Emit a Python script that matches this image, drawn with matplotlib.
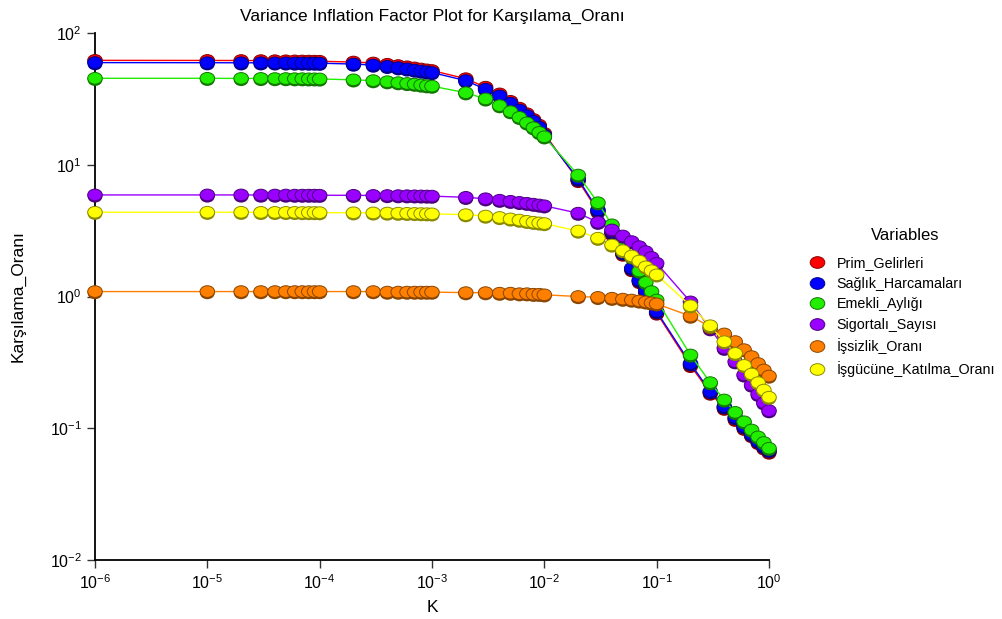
import matplotlib
matplotlib.use("Agg")
import matplotlib.pyplot as plt
import matplotlib.patheffects as pe
from matplotlib.path import Path
from matplotlib.transforms import Affine2D
from matplotlib.lines import Line2D
from matplotlib.ticker import LogLocator, NullLocator

plt.rcParams["font.family"] = ["Liberation Sans", "DejaVu Sans"]
plt.rcParams["mathtext.fontset"] = "custom"
plt.rcParams["mathtext.rm"] = "Liberation Sans"

# ridge parameter K
k_values = [1e-6,
            1e-5, 2e-5, 3e-5, 4e-5, 5e-5, 6e-5, 7e-5, 8e-5, 9e-5,
            1e-4, 2e-4, 3e-4, 4e-4, 5e-4, 6e-4, 7e-4, 8e-4, 9e-4,
            1e-3, 2e-3, 3e-3, 4e-3, 5e-3, 6e-3, 7e-3, 8e-3, 9e-3,
            1e-2, 2e-2, 3e-2, 4e-2, 5e-2, 6e-2, 7e-2, 8e-2, 9e-2,
            0.1, 0.2, 0.3, 0.4, 0.5, 0.6, 0.7, 0.8, 0.9,
            1.0]

prim_gelirleri = [62.0,
                  61.9, 61.8, 61.7, 61.6, 61.5, 61.4, 61.3, 61.2, 61.1,
                  61.0, 60.2, 59.2, 57.9, 56.6, 55.4, 54.3, 53.3, 52.5,
                  51.9, 45.0, 38.8, 34.5, 30.3, 26.9, 24.4, 22.1, 20.0,
                  17.3, 7.6, 4.42, 3.0, 2.1, 1.6, 1.3, 1.08, 0.9,
                  0.75, 0.30, 0.185, 0.142, 0.117, 0.100, 0.088, 0.078, 0.071,
                  0.066]

saglik_harcamalari = [59.6,
                      59.5, 59.4, 59.4, 59.3, 59.3, 59.2, 59.2, 59.1, 59.1,
                      59.0, 58.1, 57.1, 55.8, 54.5, 53.4, 52.3, 51.4, 50.7,
                      50.1, 43.5, 37.4, 33.3, 29.3, 26.0, 23.6, 21.4, 19.3,
                      16.8, 7.8, 4.54, 3.1, 2.15, 1.64, 1.33, 1.11, 0.92,
                      0.77, 0.31, 0.19, 0.146, 0.121, 0.103, 0.090, 0.080, 0.073,
                      0.068]

emekli_ayligi = [45.3,
                 45.3, 45.2, 45.2, 45.1, 45.1, 45.0, 45.0, 44.9, 44.9,
                 44.8, 44.1, 43.5, 42.7, 42.0, 41.4, 40.9, 40.3, 39.8,
                 39.5, 35.2, 31.6, 28.1, 25.3, 22.9, 20.8, 19.1, 17.6,
                 16.3, 8.35, 5.15, 3.5, 2.65, 2.0, 1.56, 1.28, 1.09,
                 0.94, 0.36, 0.222, 0.164, 0.132, 0.112, 0.097, 0.086, 0.078,
                 0.0705]

sigortali_sayisi = [5.9,
                    5.9, 5.9, 5.89, 5.89, 5.89, 5.88, 5.88, 5.88, 5.88,
                    5.87, 5.86, 5.85, 5.84, 5.83, 5.82, 5.81, 5.80, 5.79,
                    5.78, 5.66, 5.52, 5.38, 5.28, 5.18, 5.10, 5.02, 4.95,
                    4.88, 4.29, 3.66, 3.2, 2.88, 2.61, 2.39, 2.19, 1.98,
                    1.79, 0.91, 0.57, 0.405, 0.32, 0.254, 0.213, 0.181, 0.156,
                    0.136]

issizlik_orani = [1.09,
                  1.09, 1.09, 1.09, 1.09, 1.09, 1.09, 1.09, 1.09, 1.09,
                  1.09, 1.09, 1.09, 1.08, 1.08, 1.08, 1.08, 1.08, 1.08,
                  1.08, 1.07, 1.07, 1.06, 1.06, 1.05, 1.05, 1.04, 1.04,
                  1.03, 1.00, 0.985, 0.97, 0.955, 0.94, 0.925, 0.91, 0.895,
                  0.88, 0.71, 0.59, 0.52, 0.455, 0.395, 0.35, 0.31, 0.277,
                  0.249]

isgucune_katilma = [4.36,
                    4.36, 4.36, 4.35, 4.35, 4.35, 4.35, 4.34, 4.34, 4.34,
                    4.33, 4.32, 4.31, 4.30, 4.29, 4.28, 4.27, 4.26, 4.25,
                    4.24, 4.18, 4.08, 3.98, 3.88, 3.80, 3.72, 3.66, 3.62,
                    3.58, 3.14, 2.77, 2.46, 2.23, 2.03, 1.86, 1.68, 1.57,
                    1.46, 0.85, 0.60, 0.454, 0.37, 0.30, 0.258, 0.222, 0.195,
                    0.172]

labels = ["Prim_Gelirleri", "Sağlık_Harcamaları", "Emekli_Aylığı",
          "Sigortalı_Sayısı", "İşsizlik_Oranı", "İşgücüne_Katılma_Oranı"]
series = [prim_gelirleri, saglik_harcamalari, emekli_ayligi,
          sigortali_sayisi, issizlik_orani, isgucune_katilma]
colors = ["#ff0000", "#0000ff", "#22ee00", "#9900ff", "#ff8000", "#ffff00"]
edges = ["#8b0000", "#00008b", "#117700", "#4b007f", "#8a4500", "#8a8a00"]

# slightly flattened circle marker
ellipse = Path.unit_circle().transformed(Affine2D().scale(1.0, 0.8))

fig = plt.figure(figsize=(10.03, 6.19), dpi=100)
ax = fig.add_axes([0.0947, 0.0953, 0.672, 0.8514])

for i, (vals, col, edg) in enumerate(zip(series, colors, edges)):
    ax.plot(k_values, vals, color=col, lw=1.0, zorder=2 + 2 * i)
    ax.plot(k_values, vals, ls="none", marker=ellipse, ms=10.5,
            markerfacecolor=col, markeredgecolor=edg, markeredgewidth=0.7,
            zorder=3 + 2 * i, clip_on=False,
            path_effects=[pe.SimplePatchShadow(offset=(0, -1.3), shadow_rgbFace=edg, alpha=1.0),
                          pe.Normal()])

ax.set_xscale("log")
ax.set_yscale("log")
ax.set_xlim(1e-6, 1.0)
ax.set_ylim(1e-2, 1e2)
ax.xaxis.set_major_locator(LogLocator(base=10, numticks=10))
ax.yaxis.set_major_locator(LogLocator(base=10, numticks=10))
ax.xaxis.set_minor_locator(NullLocator())
ax.yaxis.set_minor_locator(NullLocator())

for side in ["top", "right"]:
    ax.spines[side].set_visible(False)
for side in ["left", "bottom"]:
    ax.spines[side].set_linewidth(1.3)
    ax.spines[side].set_color("black")
ax.tick_params(axis="both", which="major", direction="out", length=6, width=1.0,
               labelsize=11.5, color="#333333")

ax.set_title("Variance Inflation Factor Plot for Karşılama_Oranı", fontsize=12.5, pad=9)
ax.set_xlabel("K", fontsize=12.5, labelpad=6)
ax.set_ylabel("Karşılama_Oranı", fontsize=12.5, labelpad=17)

# legend title placed separately to get the wider gap above the entries
fig.text(0.902, 0.620, "Variables", fontsize=12, ha="center", va="center")
handles = [Line2D([], [], ls="none", marker=ellipse, ms=10.5, markerfacecolor=c,
                  markeredgecolor=e, markeredgewidth=0.7) for c, e in zip(colors, edges)]
fig.legend(handles, labels, loc="upper left",
           bbox_to_anchor=(0.800, 0.595), frameon=False, fontsize=10.3,
           labelspacing=0.45, handlelength=1.2, handletextpad=0.8,
           borderaxespad=0.0)

fig.savefig("out.png", dpi=100)
